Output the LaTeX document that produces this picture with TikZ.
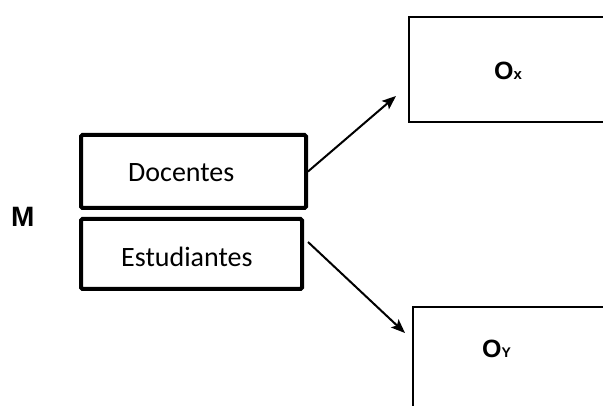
\documentclass[tikz,border=0pt]{standalone}
\usepackage{fontspec}
\setmainfont{Carlito}
\newfontfamily\headfont{Liberation Sans}
\usetikzlibrary{arrows.meta,positioning}

\tikzset{
    groupbox/.style={draw, line width=4pt, rounded corners=1.5pt, inner sep=0pt},
    outbox/.style={draw, line width=1.5pt, inner sep=0pt},
    boxtext/.style={anchor=base west, inner sep=0pt, font=\fontsize{28}{34}\selectfont},
    headtext/.style={anchor=base west, inner sep=0pt, font=\headfont\bfseries},
    flow/.style={-{Stealth[length=14pt,width=11pt,inset=3pt]}, line width=2pt}
}

\begin{document}
\begin{tikzpicture}[x=1pt, y=-1pt]
    \useasboundingbox (0,0) rectangle (603,406);
    \clip (0,0) rectangle (603,406);
    \fill[white] (0,0) rectangle (603,406);
    % sample groups
    \node[groupbox, minimum width=225pt, minimum height=73pt] (doc) at (193.5,171.5) {};
    \node[groupbox, minimum width=221pt, minimum height=70pt] (stu) at (191.5,254) {};
    \node[boxtext] (doctext) at (128,182) {Docentes};
    \node[boxtext] (stutext) at (121,267) {Estudiantes};
    \node[headtext] (m) at (11,227) {\fontsize{28}{32}\selectfont M};
    % observations
    \node[outbox, minimum width=241pt, minimum height=105pt] (ox) at (529.5,69.5) {};
    \node[outbox, minimum width=237pt, minimum height=153pt] (oy) at (531.5,383.5) {};
    \node[headtext] (oxtext) at (494,80) {\fontsize{25}{29}\selectfont O{\fontsize{15}{18}\selectfont x}};
    \node[headtext] (oytext) at (482,358) {\fontsize{25}{29}\selectfont O{\fontsize{14}{17}\selectfont Y}};
    % arrows
    \coordinate (oxin) at (396,96);
    \coordinate (stuout) at (308,242);
    \coordinate (oyin) at (405,333);
    \draw[flow] (doc.east) -- (oxin);
    \draw[flow] (stuout) -- (oyin);
\end{tikzpicture}
\end{document}
